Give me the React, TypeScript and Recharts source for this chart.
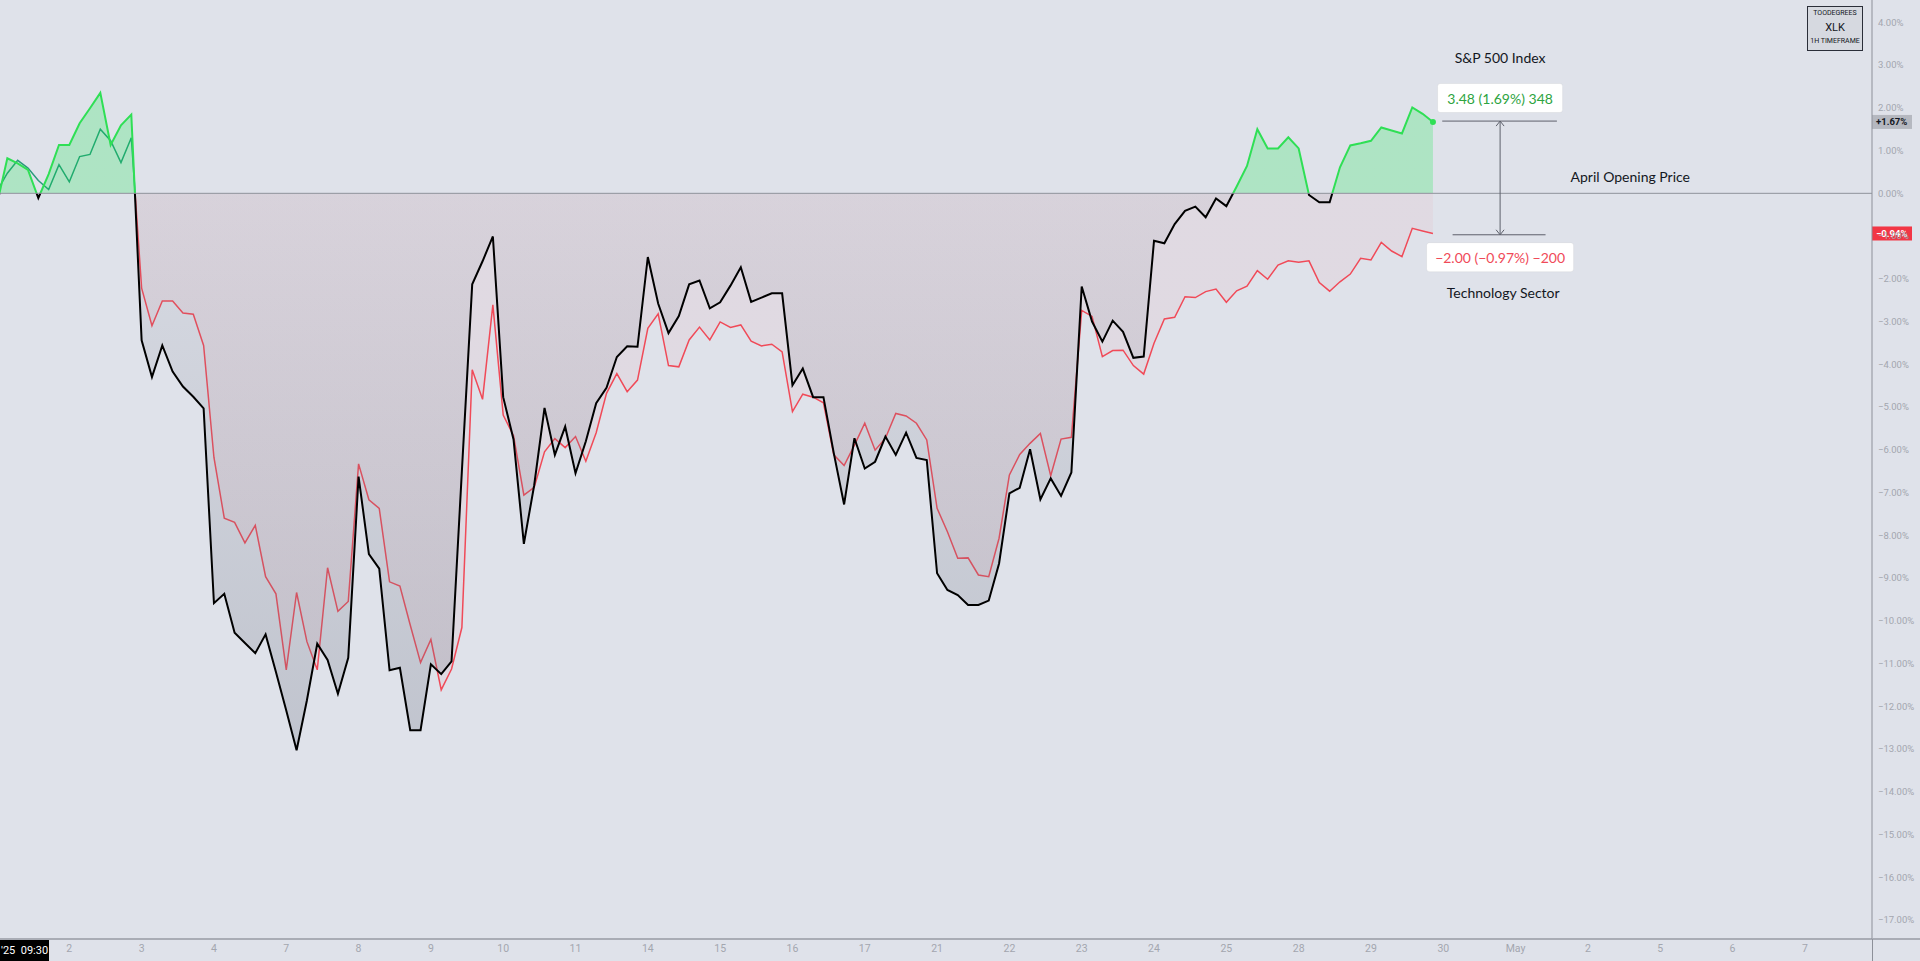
import { ComposedChart, Area, XAxis, YAxis, ReferenceLine, ReferenceDot } from 'recharts';

const W = 1920;
const H = 961;
const AXIS_W = 48;
const AXIS_H = 22;
const PLOT_H = H - AXIS_H;
const BARS_PER_DAY = 7;

// price scale (percent from the April open) and bar-index window
const Y_MIN = -17.447;
const Y_MAX = 4.523;
const X_MIN = 0.29;
const X_MAX = 181.5;
const ZERO_OFF = Y_MAX / (Y_MAX - Y_MIN);

// XLK, 1h closes, % vs April open (7 bars per session)
const xlk = [
  -0.25, 0.82, 0.7, 0.55, -0.11, 0.45, 1.13, // Apr 1
  1.13, 1.64, 1.99, 2.35, 1.13, 1.59, 1.84, // Apr 2
  -3.44, -4.3, -3.56, -4.17, -4.52, -4.76, -5.03, // Apr 3
  -9.59, -9.37, -10.28, -10.52, -10.76, -10.32, -11.2, // Apr 4
  -12.1, -13.03, -11.86, -10.54, -10.92, -11.71, -10.87, // Apr 7
  -6.63, -8.44, -8.78, -11.16, -11.1, -12.56, -12.56, // Apr 8
  -11.02, -11.25, -10.95, -6.5, -2.13, -1.59, -1.01, // Apr 9
  -4.77, -5.76, -8.2, -6.83, -5.02, -6.12, -5.46, // Apr 10
  -6.55, -5.8, -4.91, -4.55, -3.83, -3.58, -3.59, // Apr 11
  -1.49, -2.58, -3.27, -2.87, -2.13, -2.04, -2.69, // Apr 14
  -2.55, -2.16, -1.73, -2.54, -2.44, -2.34, -2.34, // Apr 15
  -4.49, -4.1, -4.77, -4.77, -6.08, -7.28, -5.73, // Apr 16
  -6.44, -6.28, -5.69, -6.12, -5.6, -6.19, -6.24, // Apr 17
  -8.89, -9.28, -9.4, -9.63, -9.63, -9.53, -8.66, // Apr 21
  -7.02, -6.89, -5.99, -7.16, -6.67, -7.08, -6.53, // Apr 22
  -2.18, -3.0, -3.47, -2.98, -3.24, -3.85, -3.82, // Apr 23
  -1.11, -1.17, -0.72, -0.41, -0.31, -0.56, -0.12, // Apr 24
  -0.3, 0.16, 0.64, 1.5, 1.05, 1.05, 1.31, // Apr 25
  1.05, -0.04, -0.21, -0.21, 0.61, 1.12, 1.17, // Apr 28
  1.23, 1.54, 1.47, 1.4, 2.01, 1.86, 1.67, // Apr 29
];

// S&P 500, same bars
const spx = [
  0.05, 0.47, 0.77, 0.59, 0.3, 0.09, 0.67,
  0.27, 0.86, 0.91, 1.5, 1.23, 0.72, 1.3,
  -2.22, -3.1, -2.52, -2.52, -2.8, -2.83, -3.56,
  -6.18, -7.6, -7.7, -8.18, -7.77, -8.97, -9.37,
  -11.15, -9.34, -10.49, -11.15, -8.76, -9.78, -9.55,
  -6.33, -7.17, -7.37, -9.09, -9.19, -10.1, -10.98,
  -10.44, -11.62, -11.13, -10.16, -4.13, -4.82, -2.61,
  -5.19, -5.67, -7.06, -6.88, -6.05, -5.74, -5.95,
  -5.69, -6.27, -5.6, -4.68, -4.22, -4.64, -4.37,
  -3.16, -2.82, -4.03, -4.06, -3.43, -3.13, -3.43,
  -3.01, -3.14, -3.08, -3.46, -3.57, -3.53, -3.71,
  -5.11, -4.7, -4.77, -4.9, -6.12, -6.37, -5.89,
  -5.38, -6.01, -5.73, -5.15, -5.21, -5.38, -5.77,
  -7.37, -7.92, -8.54, -8.53, -8.93, -8.97, -8.07,
  -6.59, -6.11, -5.85, -5.62, -6.61, -5.75, -5.71,
  -2.74, -2.88, -3.82, -3.68, -3.67, -4.03, -4.23,
  -3.51, -2.94, -2.9, -2.42, -2.44, -2.3, -2.24,
  -2.55, -2.28, -2.17, -1.81, -2.01, -1.68, -1.58,
  -1.61, -1.58, -2.09, -2.29, -2.07, -1.89, -1.52,
  -1.56, -1.15, -1.35, -1.48, -0.82, -0.88, -0.94,
];

// session labels after the first one (Apr 2 .. May 7)
const dayLabels = ['2', '3', '4', '7', '8', '9', '10', '11', '14', '15', '16', '17', '21', '22', '23', '24', '25', '28', '29', '30', 'May', '2', '5', '6', '7'];
const yTicks = [-17, -16, -15, -14, -13, -12, -11, -10, -9, -8, -7, -6, -5, -4, -3, -2, -1, 0, 1, 2, 3, 4];

// measure tool drawn on the chart (bar index / percent)
const measureTopX = [139.9, 151.0];
const measureBottomX = [140.9, 149.9];
const measureMidX = 145.5;
const measureTop = 1.69;
const measureBottom = -0.97;
const measureLabels = ['3.48 (1.69%) 348', '\u22122.00 (\u22120.97%) \u2212200'];
const measureLabelY = [2.23, -1.495];

const notes = ['S&P 500 Index', 'April Opening Price', 'Technology Sector'];
const noteX = [145.5, 158.1, 145.8];
const noteY = [3.18, 0.405, -2.32];

const data = xlk.map((v, i) => ({ i, xlk: v, spx: spx[i] }));
const xTicks = dayLabels.map((_, k) => (k + 1) * BARS_PER_DAY);

const FONT = 'Lato, "Noto Sans", sans-serif';
const AXIS_FONT = 'Roboto, sans-serif';
const GREEN = '#2fdf55';
const RED = '#f04a58';
const TEAL = '#2a9a7c';

const fmtPct = (v: number) => (v < 0 ? '\u2212' : '') + Math.abs(v).toFixed(2) + '%';

function PriceTag(props: any) {
  const { viewBox, text, bg, color } = props;
  const x = viewBox.x + viewBox.width;
  const y = viewBox.y;
  return (
    <g>
      <rect x={x} y={y - 7} width={40} height={14} fill={bg} />
      <text x={x + 4} y={y} dominantBaseline="central" fontSize={9.5} fontWeight={700} fontFamily={AXIS_FONT} fill={color}>
        {text}
      </text>
    </g>
  );
}

function MeasureBox(props: any) {
  const { cx, cy, text, color, width } = props;
  return (
    <g>
      <rect x={cx - width / 2} y={cy - 14.5} width={width} height={29} rx={3} fill="#ffffff" stroke="rgba(0,0,0,0.05)" />
      <text x={cx} y={cy} textAnchor="middle" dominantBaseline="central" fontSize={14} fontFamily={FONT} fill={color}>
        {text}
      </text>
    </g>
  );
}

function Note(props: any) {
  return (
    <text x={props.cx} y={props.cy} textAnchor="middle" dominantBaseline="central" fontSize={14} fontFamily={FONT} fill="#131722">
      {props.text}
    </text>
  );
}

function Arrow(props: any) {
  const { x1, y1, x2, y2 } = props;
  const top = Math.min(y1, y2);
  const bot = Math.max(y1, y2);
  return (
    <g stroke="#5d606b" strokeWidth={1} fill="none">
      <line x1={x1} y1={top} x2={x2} y2={bot} />
      <path d={`M${x1 - 4},${top + 5} L${x1},${top} L${x1 + 4},${top + 5}`} />
      <path d={`M${x1 - 4},${bot - 5} L${x1},${bot} L${x1 + 4},${bot - 5}`} />
    </g>
  );
}

export default function App() {
  const last = data[data.length - 1];
  return (
    <div style={{ position: 'fixed', left: 0, top: 0, width: W, height: H, background: '#dfe2ea', overflow: 'hidden' }}>
      <ComposedChart width={W} height={H} data={data} margin={{ top: 0, right: 0, bottom: 0, left: 0 }}>
        <defs>
          <linearGradient id="xlkStroke" gradientUnits="userSpaceOnUse" x1="0" y1="0" x2="0" y2={PLOT_H}>
            <stop offset={ZERO_OFF} stopColor={GREEN} />
            <stop offset={ZERO_OFF} stopColor="#000000" />
          </linearGradient>
          <linearGradient id="xlkFill" gradientUnits="userSpaceOnUse" x1="0" y1="0" x2="0" y2={PLOT_H}>
            <stop offset={0} stopColor="rgb(0,235,60)" stopOpacity={0.22} />
            <stop offset={ZERO_OFF} stopColor="rgb(0,235,60)" stopOpacity={0.22} />
            <stop offset={ZERO_OFF} stopColor="rgb(110,115,130)" stopOpacity={0.07} />
            <stop offset={1} stopColor="rgb(110,115,130)" stopOpacity={0.34} />
          </linearGradient>
          <linearGradient id="spxStroke" gradientUnits="userSpaceOnUse" x1="0" y1="0" x2="0" y2={PLOT_H}>
            <stop offset={ZERO_OFF} stopColor={TEAL} />
            <stop offset={ZERO_OFF} stopColor={RED} />
          </linearGradient>
          <linearGradient id="spxFill" gradientUnits="userSpaceOnUse" x1="0" y1="0" x2="0" y2={PLOT_H}>
            <stop offset={0} stopColor={RED} stopOpacity={0} />
            <stop offset={ZERO_OFF} stopColor={RED} stopOpacity={0} />
            <stop offset={ZERO_OFF} stopColor={RED} stopOpacity={0.055} />
            <stop offset={1} stopColor={RED} stopOpacity={0.055} />
          </linearGradient>
        </defs>
        <XAxis
          type="number"
          dataKey="i"
          domain={[X_MIN, X_MAX]}
          allowDataOverflow
          ticks={xTicks}
          interval={0}
          tickFormatter={(v: number) => dayLabels[Math.round(v / BARS_PER_DAY) - 1]}
          height={AXIS_H}
          tickSize={0}
          tickMargin={6}
          axisLine={{ stroke: '#a9acb5', strokeWidth: 2 }}
          tick={{ fontSize: 10.5, fill: '#a3a6af', fontFamily: AXIS_FONT }}
        />
        <YAxis
          orientation="right"
          width={AXIS_W}
          domain={[Y_MIN, Y_MAX]}
          allowDataOverflow
          ticks={yTicks}
          interval={0}
          tickFormatter={fmtPct}
          tickSize={0}
          tickMargin={6}
          axisLine={{ stroke: '#8d9099' }}
          tick={{ fontSize: 9.5, fill: '#a3a6af', fontFamily: AXIS_FONT, textAnchor: 'start' }}
        />
        <ReferenceLine y={0} stroke="#8f929b" strokeWidth={1} />
        <Area type="linear" dataKey="spx" baseValue={0} stroke="url(#spxStroke)" strokeWidth={1.5} fill="url(#spxFill)" fillOpacity={1} dot={false} activeDot={false} isAnimationActive={false} />
        <Area type="linear" dataKey="xlk" baseValue={0} stroke="url(#xlkStroke)" strokeWidth={2} fill="url(#xlkFill)" fillOpacity={1} dot={false} activeDot={false} isAnimationActive={false} />
        <ReferenceDot x={last.i} y={last.xlk} r={3} fill={GREEN} stroke="none" />

        <ReferenceLine segment={[{ x: measureTopX[0], y: measureTop }, { x: measureTopX[1], y: measureTop }]} stroke="#5d606b" strokeWidth={1} />
        <ReferenceLine segment={[{ x: measureBottomX[0], y: measureBottom }, { x: measureBottomX[1], y: measureBottom }]} stroke="#5d606b" strokeWidth={1} />
        <ReferenceLine segment={[{ x: measureMidX, y: measureTop }, { x: measureMidX, y: measureBottom }]} shape={(p: any) => <Arrow {...p} />} />
        <ReferenceDot x={measureMidX} y={measureLabelY[0]} shape={(p: any) => <MeasureBox {...p} text={measureLabels[0]} color="#2ea43f" width={125} />} />
        <ReferenceDot x={measureMidX} y={measureLabelY[1]} shape={(p: any) => <MeasureBox {...p} text={measureLabels[1]} color={RED} width={147} />} />
        {notes.map((t, k) => (
          <ReferenceDot key={t} x={noteX[k]} y={noteY[k]} shape={(p: any) => <Note {...p} text={t} />} />
        ))}

        <ReferenceLine y={last.xlk} stroke="none" label={<PriceTag text={'+' + last.xlk.toFixed(2) + '%'} bg="#b5b8c0" color="#131722" />} />
        <ReferenceLine y={last.spx} stroke="none" label={<PriceTag text={fmtPct(last.spx)} bg="#f23645" color="#ffffff" />} />
      </ComposedChart>

      {/* watermark */}
      <div style={{ position: 'absolute', left: 1807, top: 6, width: 54, height: 43, border: '1.5px solid #2a2e39', background: '#d6d9e0', fontFamily: AXIS_FONT, color: '#131722', textAlign: 'center', lineHeight: 1 }}>
        <div style={{ fontSize: 7, marginTop: 3 }}>TOODEGREES</div>
        <div style={{ fontSize: 11, marginTop: 5 }}>XLK</div>
        <div style={{ fontSize: 7, marginTop: 5 }}>1H TIMEFRAME</div>
      </div>

      {/* crosshair time label and axis border ends */}
      <div style={{ position: 'absolute', left: 0, top: PLOT_H + 1, width: 49, height: AXIS_H - 1, background: '#000', color: '#fff', fontFamily: AXIS_FONT, fontSize: 11, lineHeight: `${AXIS_H - 1}px`, whiteSpace: 'nowrap', overflow: 'hidden' }}>
        <span style={{ marginLeft: 1 }}>'25&nbsp;&nbsp;09:30</span>
      </div>
      <div style={{ position: 'absolute', left: W - AXIS_W, top: PLOT_H - 1, width: AXIS_W, height: 2, background: '#a9acb5' }} />
      <div style={{ position: 'absolute', left: W - AXIS_W, top: PLOT_H, width: 1, height: AXIS_H, background: '#8d9099' }} />
    </div>
  );
}
